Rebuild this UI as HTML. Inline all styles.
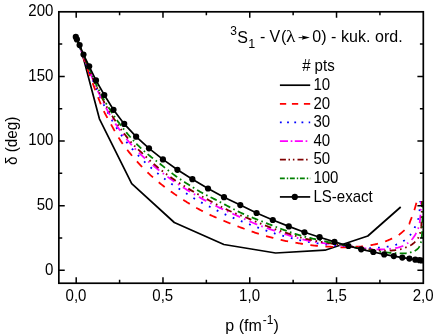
<!DOCTYPE html>
<html><head><meta charset="utf-8"><title>plot</title>
<style>html,body{margin:0;padding:0;background:#fff;}body{width:436px;height:336px;overflow:hidden;font-family:"Liberation Sans",sans-serif;}svg{display:block;will-change:transform;}</style></head>
<body>
<svg width="436" height="336" viewBox="0 0 436 336" font-family="'Liberation Sans', sans-serif" fill="#000">
<rect width="436" height="336" fill="#fff"/>
<defs><clipPath id="cp"><rect x="58.84" y="11.80" width="364.46" height="271.43"/></clipPath></defs>
<g clip-path="url(#cp)">
<g fill="none" stroke-width="1.80" stroke-linejoin="round">
<path d="M80.60,47.50 L99.40,118.80 L131.70,183.70 L174.30,222.50 L223.90,244.50 L275.60,253.00 L325.00,250.20 L367.80,236.00 L400.70,207.00" stroke="#000" stroke-width="1.7"/>
<path d="M77.40,40.46 L77.82,41.68 L78.23,42.87 L78.64,44.05 L79.04,45.23 L79.45,46.41 L79.85,47.59 L80.26,48.78 L80.68,50.00 L81.12,51.24 L81.56,52.51 L82.02,53.82 L82.50,55.17 L83.15,57.01 L83.84,58.93 L84.55,60.92 L85.29,62.97 L86.05,65.07 L86.82,67.19 L87.60,69.32 L88.38,71.46 L89.15,73.57 L89.92,75.65 L90.67,77.68 L91.40,79.65 L92.05,81.41 L92.71,83.16 L93.36,84.91 L94.01,86.65 L94.66,88.38 L95.31,90.09 L95.95,91.77 L96.58,93.42 L97.20,95.03 L97.81,96.60 L98.41,98.13 L99.00,99.60 L99.44,100.71 L99.87,101.78 L100.28,102.81 L100.68,103.83 L101.08,104.82 L101.48,105.79 L101.88,106.75 L102.28,107.70 L102.69,108.65 L103.11,109.59 L103.55,110.54 L104.00,111.49 L104.46,112.43 L104.93,113.35 L105.41,114.27 L105.90,115.17 L106.40,116.07 L106.90,116.97 L107.41,117.87 L107.92,118.77 L108.44,119.68 L108.96,120.59 L109.48,121.51 L110.00,122.45 L110.56,123.47 L111.13,124.51 L111.70,125.56 L112.27,126.62 L112.85,127.69 L113.44,128.76 L114.02,129.83 L114.61,130.89 L115.20,131.95 L115.80,132.99 L116.40,134.02 L117.00,135.02 L117.56,135.95 L118.12,136.86 L118.68,137.75 L119.24,138.64 L119.79,139.51 L120.36,140.39 L120.93,141.26 L121.52,142.13 L122.11,143.00 L122.72,143.88 L123.35,144.76 L124.00,145.66 L124.75,146.67 L125.52,147.69 L126.32,148.72 L127.13,149.76 L127.96,150.80 L128.80,151.84 L129.65,152.88 L130.52,153.91 L131.38,154.95 L132.25,155.97 L133.13,156.99 L134.00,158.00 L134.88,159.02 L135.78,160.03 L136.68,161.04 L137.58,162.05 L138.50,163.06 L139.42,164.05 L140.34,165.05 L141.27,166.03 L142.20,167.01 L143.13,167.97 L144.07,168.93 L145.00,169.87 L145.90,170.76 L146.79,171.64 L147.68,172.50 L148.57,173.36 L149.46,174.21 L150.36,175.05 L151.27,175.88 L152.18,176.71 L153.11,177.55 L154.06,178.38 L155.02,179.21 L156.00,180.05 L157.09,180.96 L158.20,181.87 L159.33,182.78 L160.48,183.69 L161.64,184.61 L162.82,185.51 L164.00,186.42 L165.19,187.32 L166.39,188.21 L167.59,189.10 L168.80,189.98 L170.00,190.85 L171.23,191.73 L172.48,192.61 L173.74,193.49 L175.02,194.37 L176.30,195.25 L177.58,196.11 L178.86,196.97 L180.12,197.81 L181.38,198.63 L182.61,199.44 L183.82,200.22 L185.00,200.97 L185.97,201.59 L186.91,202.18 L187.83,202.76 L188.74,203.32 L189.63,203.87 L190.52,204.41 L191.41,204.94 L192.31,205.47 L193.21,206.00 L194.12,206.53 L195.05,207.06 L196.00,207.60 L197.04,208.17 L198.10,208.76 L199.17,209.34 L200.25,209.92 L201.34,210.50 L202.44,211.08 L203.54,211.65 L204.64,212.21 L205.74,212.77 L206.84,213.31 L207.92,213.85 L209.00,214.37 L210.01,214.85 L211.02,215.32 L212.03,215.78 L213.04,216.23 L214.04,216.67 L215.05,217.11 L216.05,217.54 L217.04,217.96 L218.04,218.39 L219.03,218.80 L220.02,219.22 L221.00,219.64 L221.92,220.03 L222.83,220.41 L223.71,220.78 L224.59,221.15 L225.47,221.51 L226.35,221.88 L227.24,222.24 L228.14,222.60 L229.06,222.98 L230.01,223.35 L230.99,223.74 L232.00,224.14 L233.36,224.66 L234.79,225.22 L236.29,225.79 L237.83,226.38 L239.40,226.97 L240.99,227.57 L242.58,228.16 L244.15,228.74 L245.70,229.31 L247.20,229.86 L248.64,230.38 L250.00,230.86 L251.01,231.22 L251.98,231.56 L252.92,231.90 L253.84,232.22 L254.74,232.53 L255.63,232.83 L256.51,233.13 L257.39,233.42 L258.27,233.71 L259.16,234.00 L260.07,234.29 L261.00,234.57 L261.98,234.87 L262.96,235.16 L263.96,235.45 L264.95,235.73 L265.95,236.01 L266.96,236.29 L267.97,236.56 L268.97,236.83 L269.98,237.09 L270.99,237.36 L272.00,237.62 L273.00,237.88 L274.00,238.14 L275.00,238.40 L275.99,238.66 L276.99,238.92 L277.99,239.17 L278.99,239.42 L279.99,239.67 L280.99,239.91 L281.99,240.15 L282.99,240.38 L284.00,240.60 L285.00,240.82 L286.00,241.02 L287.00,241.22 L288.01,241.41 L289.01,241.60 L290.02,241.77 L291.03,241.95 L292.03,242.12 L293.03,242.29 L294.03,242.46 L295.03,242.62 L296.02,242.79 L297.00,242.96 L297.93,243.12 L298.85,243.28 L299.77,243.44 L300.68,243.60 L301.59,243.76 L302.50,243.92 L303.40,244.07 L304.31,244.23 L305.22,244.37 L306.14,244.52 L307.07,244.66 L308.00,244.79 L308.98,244.92 L309.98,245.06 L310.99,245.18 L312.00,245.31 L313.01,245.43 L314.03,245.54 L315.05,245.65 L316.06,245.76 L317.06,245.86 L318.06,245.95 L319.04,246.04 L320.00,246.13 L320.86,246.20 L321.72,246.26 L322.56,246.31 L323.40,246.36 L324.23,246.40 L325.06,246.45 L325.88,246.49 L326.70,246.53 L327.52,246.57 L328.34,246.61 L329.17,246.66 L330.00,246.71 L330.83,246.77 L331.64,246.84 L332.45,246.91 L333.26,246.99 L334.07,247.07 L334.88,247.14 L335.69,247.22 L336.52,247.29 L337.36,247.35 L338.22,247.40 L339.10,247.43 L340.00,247.45 L341.16,247.46 L342.40,247.44 L343.69,247.40 L345.02,247.35 L346.37,247.28 L347.72,247.21 L349.06,247.13 L350.36,247.05 L351.62,246.98 L352.80,246.91 L353.90,246.85 L354.90,246.80 L355.45,246.78 L355.97,246.76 L356.45,246.75 L356.92,246.74 L357.36,246.73 L357.79,246.72 L358.21,246.71 L358.63,246.69 L359.06,246.68 L359.49,246.66 L359.93,246.63 L360.40,246.60 L360.92,246.56 L361.46,246.52 L362.00,246.47 L362.54,246.42 L363.09,246.37 L363.64,246.31 L364.19,246.25 L364.74,246.19 L365.29,246.12 L365.83,246.05 L366.37,245.98 L366.90,245.90 L367.40,245.82 L367.90,245.74 L368.40,245.66 L368.90,245.57 L369.39,245.48 L369.88,245.39 L370.37,245.29 L370.86,245.19 L371.35,245.09 L371.83,245.00 L372.32,244.90 L372.80,244.80 L373.26,244.71 L373.72,244.61 L374.18,244.52 L374.63,244.43 L375.09,244.34 L375.54,244.25 L375.99,244.15 L376.45,244.05 L376.90,243.94 L377.36,243.84 L377.83,243.72 L378.30,243.60 L378.83,243.46 L379.36,243.31 L379.91,243.16 L380.46,243.00 L381.01,242.84 L381.56,242.67 L382.11,242.50 L382.66,242.33 L383.21,242.15 L383.75,241.97 L384.28,241.79 L384.80,241.60 L385.28,241.42 L385.75,241.24 L386.21,241.06 L386.67,240.87 L387.12,240.69 L387.58,240.49 L388.03,240.30 L388.48,240.10 L388.93,239.90 L389.38,239.70 L389.84,239.50 L390.30,239.30 L390.79,239.09 L391.28,238.88 L391.78,238.67 L392.27,238.47 L392.77,238.26 L393.27,238.04 L393.77,237.83 L394.27,237.60 L394.76,237.37 L395.24,237.12 L395.73,236.87 L396.20,236.60 L396.68,236.31 L397.15,236.02 L397.61,235.72 L398.07,235.41 L398.52,235.09 L398.98,234.76 L399.43,234.43 L399.88,234.08 L400.33,233.72 L400.78,233.36 L401.24,232.98 L401.70,232.60 L402.25,232.14 L402.82,231.66 L403.41,231.16 L404.01,230.65 L404.61,230.12 L405.21,229.59 L405.79,229.05 L406.35,228.50 L406.87,227.95 L407.36,227.40 L407.81,226.85 L408.20,226.30 L408.47,225.87 L408.70,225.44 L408.91,225.01 L409.09,224.58 L409.25,224.15 L409.40,223.71 L409.55,223.27 L409.68,222.83 L409.82,222.38 L409.97,221.93 L410.13,221.47 L410.30,221.00 L410.52,220.45 L410.74,219.89 L410.97,219.31 L411.20,218.72 L411.43,218.13 L411.67,217.54 L411.90,216.94 L412.13,216.34 L412.36,215.74 L412.58,215.15 L412.79,214.57 L413.00,214.00 L413.18,213.48 L413.36,212.97 L413.54,212.46 L413.71,211.96 L413.87,211.46 L414.04,210.96 L414.20,210.46 L414.36,209.96 L414.52,209.46 L414.68,208.94 L414.84,208.43 L415.00,207.90 L415.17,207.32 L415.34,206.74 L415.51,206.15 L415.68,205.55 L415.84,204.95 L416.01,204.34 L416.17,203.73 L416.34,203.12 L416.50,202.52 L416.67,201.91 L416.83,201.30 L417.00,200.70" stroke="#ff0000" stroke-dasharray="7.6 7.5"/>
<path d="M76.80,39.18 L77.31,40.56 L77.83,41.94 L78.34,43.32 L78.84,44.69 L79.35,46.07 L79.86,47.45 L80.37,48.83 L80.89,50.21 L81.41,51.59 L81.93,52.98 L82.46,54.37 L83.00,55.76 L83.56,57.20 L84.13,58.64 L84.70,60.09 L85.29,61.54 L85.87,63.00 L86.46,64.46 L87.05,65.91 L87.64,67.37 L88.23,68.82 L88.82,70.28 L89.41,71.73 L90.00,73.17 L90.58,74.61 L91.17,76.06 L91.75,77.52 L92.34,78.98 L92.92,80.44 L93.51,81.90 L94.09,83.34 L94.68,84.77 L95.26,86.18 L95.84,87.58 L96.42,88.94 L97.00,90.28 L97.50,91.42 L98.00,92.54 L98.49,93.65 L98.98,94.73 L99.47,95.80 L99.96,96.86 L100.45,97.91 L100.95,98.96 L101.45,100.01 L101.96,101.07 L102.47,102.13 L103.00,103.21 L103.55,104.32 L104.11,105.44 L104.67,106.56 L105.24,107.69 L105.81,108.81 L106.39,109.93 L106.98,111.06 L107.57,112.18 L108.17,113.30 L108.77,114.42 L109.38,115.54 L110.00,116.65 L110.63,117.77 L111.26,118.89 L111.89,120.01 L112.53,121.13 L113.17,122.24 L113.82,123.35 L114.48,124.46 L115.15,125.58 L115.84,126.69 L116.54,127.81 L117.26,128.94 L118.00,130.07 L118.83,131.32 L119.68,132.58 L120.55,133.85 L121.44,135.13 L122.35,136.41 L123.27,137.69 L124.21,138.96 L125.15,140.23 L126.10,141.49 L127.06,142.73 L128.03,143.95 L129.00,145.16 L129.95,146.31 L130.91,147.45 L131.88,148.57 L132.85,149.69 L133.83,150.79 L134.83,151.88 L135.83,152.97 L136.84,154.04 L137.86,155.12 L138.90,156.19 L139.94,157.25 L141.00,158.32 L142.11,159.42 L143.23,160.52 L144.37,161.62 L145.53,162.71 L146.69,163.79 L147.87,164.87 L149.05,165.95 L150.24,167.01 L151.43,168.06 L152.62,169.10 L153.81,170.13 L155.00,171.14 L156.15,172.11 L157.30,173.07 L158.46,174.02 L159.62,174.96 L160.78,175.90 L161.95,176.82 L163.11,177.73 L164.28,178.63 L165.46,179.52 L166.64,180.40 L167.82,181.27 L169.00,182.12 L170.15,182.94 L171.31,183.74 L172.47,184.53 L173.63,185.31 L174.80,186.08 L175.97,186.84 L177.14,187.59 L178.31,188.34 L179.48,189.08 L180.66,189.83 L181.83,190.58 L183.00,191.33 L184.16,192.07 L185.32,192.82 L186.49,193.58 L187.65,194.33 L188.81,195.08 L189.97,195.82 L191.14,196.56 L192.31,197.29 L193.47,198.01 L194.65,198.72 L195.82,199.42 L197.00,200.10 L198.16,200.76 L199.31,201.39 L200.48,202.02 L201.64,202.64 L202.81,203.25 L203.98,203.85 L205.15,204.44 L206.32,205.04 L207.49,205.63 L208.66,206.21 L209.83,206.80 L211.00,207.39 L212.16,207.98 L213.32,208.57 L214.48,209.16 L215.64,209.75 L216.79,210.33 L217.95,210.92 L219.11,211.49 L220.28,212.07 L221.45,212.64 L222.63,213.20 L223.81,213.76 L225.00,214.31 L226.23,214.86 L227.46,215.41 L228.71,215.96 L229.96,216.50 L231.22,217.04 L232.48,217.57 L233.74,218.10 L235.01,218.62 L236.26,219.13 L237.52,219.65 L238.76,220.15 L240.00,220.66 L241.18,221.13 L242.36,221.60 L243.53,222.06 L244.69,222.52 L245.86,222.98 L247.02,223.43 L248.18,223.87 L249.35,224.32 L250.51,224.76 L251.67,225.20 L252.83,225.64 L254.00,226.09 L255.16,226.53 L256.33,226.98 L257.49,227.42 L258.66,227.87 L259.82,228.31 L260.99,228.75 L262.16,229.19 L263.32,229.62 L264.49,230.05 L265.66,230.47 L266.83,230.89 L268.00,231.29 L269.16,231.68 L270.32,232.07 L271.49,232.45 L272.65,232.82 L273.82,233.19 L274.99,233.55 L276.15,233.91 L277.32,234.27 L278.49,234.61 L279.66,234.96 L280.83,235.30 L282.00,235.63 L283.16,235.96 L284.33,236.29 L285.50,236.61 L286.68,236.93 L287.85,237.24 L289.02,237.55 L290.19,237.85 L291.36,238.15 L292.53,238.44 L293.69,238.72 L294.85,239.00 L296.00,239.28 L297.10,239.53 L298.20,239.79 L299.30,240.04 L300.40,240.28 L301.50,240.52 L302.59,240.75 L303.68,240.98 L304.76,241.20 L305.83,241.42 L306.90,241.62 L307.95,241.83 L309.00,242.02 L309.95,242.19 L310.89,242.35 L311.82,242.51 L312.75,242.66 L313.67,242.81 L314.58,242.95 L315.50,243.09 L316.40,243.22 L317.31,243.35 L318.21,243.48 L319.10,243.60 L320.00,243.73 L320.85,243.84 L321.69,243.95 L322.53,244.06 L323.37,244.16 L324.20,244.26 L325.03,244.36 L325.86,244.46 L326.68,244.55 L327.51,244.64 L328.34,244.73 L329.17,244.82 L330.00,244.91 L330.83,245.00 L331.67,245.08 L332.50,245.17 L333.33,245.25 L334.17,245.33 L335.00,245.41 L335.83,245.49 L336.67,245.57 L337.50,245.64 L338.33,245.72 L339.17,245.79 L340.00,245.85 L340.84,245.92 L341.68,245.98 L342.53,246.03 L343.37,246.08 L344.22,246.13 L345.07,246.17 L345.91,246.22 L346.75,246.27 L347.58,246.32 L348.40,246.37 L349.21,246.43 L350.00,246.50 L350.70,246.57 L351.38,246.63 L352.06,246.71 L352.73,246.79 L353.39,246.86 L354.04,246.94 L354.70,247.02 L355.35,247.10 L356.01,247.18 L356.67,247.26 L357.33,247.33 L358.00,247.40 L358.70,247.47 L359.40,247.54 L360.11,247.61 L360.83,247.68 L361.54,247.75 L362.26,247.81 L362.97,247.87 L363.68,247.93 L364.37,247.98 L365.06,248.03 L365.74,248.07 L366.40,248.10 L366.96,248.12 L367.51,248.14 L368.05,248.15 L368.59,248.16 L369.12,248.16 L369.64,248.16 L370.16,248.16 L370.68,248.16 L371.20,248.15 L371.73,248.13 L372.26,248.12 L372.80,248.10 L373.37,248.08 L373.94,248.05 L374.51,248.02 L375.08,247.98 L375.66,247.94 L376.24,247.90 L376.81,247.86 L377.39,247.81 L377.97,247.76 L378.55,247.71 L379.12,247.65 L379.70,247.60 L380.28,247.55 L380.85,247.49 L381.42,247.43 L382.00,247.38 L382.57,247.32 L383.14,247.25 L383.71,247.19 L384.29,247.12 L384.86,247.05 L385.44,246.97 L386.02,246.89 L386.60,246.80 L387.20,246.71 L387.81,246.62 L388.42,246.53 L389.03,246.43 L389.65,246.33 L390.26,246.23 L390.88,246.12 L391.49,246.00 L392.10,245.87 L392.70,245.72 L393.30,245.57 L393.90,245.40 L394.50,245.22 L395.10,245.02 L395.69,244.81 L396.28,244.60 L396.87,244.37 L397.46,244.14 L398.05,243.89 L398.63,243.63 L399.20,243.36 L399.77,243.09 L400.34,242.80 L400.90,242.50 L401.47,242.18 L402.04,241.86 L402.60,241.52 L403.17,241.18 L403.72,240.82 L404.28,240.45 L404.82,240.07 L405.36,239.68 L405.89,239.28 L406.40,238.86 L406.91,238.44 L407.40,238.00 L407.89,237.54 L408.37,237.07 L408.85,236.57 L409.32,236.07 L409.78,235.55 L410.22,235.02 L410.66,234.49 L411.08,233.95 L411.49,233.41 L411.88,232.87 L412.25,232.33 L412.60,231.80 L412.89,231.33 L413.17,230.86 L413.43,230.39 L413.67,229.92 L413.90,229.45 L414.12,228.98 L414.34,228.50 L414.55,228.02 L414.76,227.53 L414.97,227.03 L415.18,226.52 L415.40,226.00 L415.66,225.39 L415.92,224.77 L416.19,224.14 L416.45,223.49 L416.71,222.84 L416.97,222.17 L417.23,221.51 L417.47,220.84 L417.70,220.17 L417.92,219.51 L418.12,218.85 L418.30,218.20 L418.45,217.59 L418.59,216.98 L418.72,216.37 L418.83,215.76 L418.94,215.15 L419.03,214.54 L419.12,213.93 L419.20,213.33 L419.28,212.74 L419.36,212.15 L419.43,211.57 L419.50,211.00 L419.56,210.51 L419.62,210.02 L419.67,209.54 L419.71,209.06 L419.75,208.59 L419.79,208.12 L419.83,207.65 L419.87,207.19 L419.90,206.74 L419.93,206.29 L419.97,205.84 L420.00,205.40 L420.03,205.01 L420.06,204.64 L420.08,204.26 L420.11,203.89 L420.13,203.53 L420.16,203.17 L420.18,202.81 L420.20,202.45 L420.23,202.09 L420.25,201.73 L420.28,201.36 L420.30,201.00" stroke="#0000ff" stroke-dasharray="1.8 7"/>
<path d="M76.60,38.73 L77.13,40.12 L77.66,41.50 L78.19,42.89 L78.72,44.27 L79.24,45.65 L79.77,47.04 L80.30,48.42 L80.83,49.81 L81.37,51.19 L81.91,52.58 L82.45,53.97 L83.00,55.36 L83.57,56.77 L84.14,58.19 L84.71,59.61 L85.29,61.03 L85.88,62.45 L86.47,63.87 L87.05,65.29 L87.64,66.71 L88.23,68.13 L88.82,69.55 L89.41,70.96 L90.00,72.37 L90.58,73.78 L91.17,75.20 L91.75,76.62 L92.33,78.05 L92.92,79.48 L93.51,80.90 L94.09,82.31 L94.67,83.71 L95.26,85.09 L95.84,86.45 L96.42,87.78 L97.00,89.08 L97.50,90.19 L98.00,91.27 L98.50,92.34 L99.00,93.39 L99.50,94.42 L100.00,95.44 L100.50,96.46 L100.99,97.47 L101.49,98.48 L101.99,99.48 L102.50,100.49 L103.00,101.51 L103.49,102.50 L103.97,103.48 L104.45,104.45 L104.92,105.42 L105.40,106.38 L105.88,107.35 L106.36,108.31 L106.86,109.28 L107.37,110.26 L107.89,111.24 L108.44,112.23 L109.00,113.24 L109.66,114.39 L110.35,115.55 L111.05,116.73 L111.77,117.91 L112.50,119.11 L113.26,120.31 L114.02,121.51 L114.80,122.71 L115.59,123.91 L116.38,125.10 L117.19,126.29 L118.00,127.47 L118.86,128.69 L119.73,129.93 L120.63,131.17 L121.54,132.42 L122.46,133.66 L123.39,134.89 L124.32,136.12 L125.26,137.33 L126.20,138.52 L127.14,139.70 L128.07,140.84 L129.00,141.96 L129.83,142.93 L130.65,143.89 L131.47,144.83 L132.29,145.75 L133.11,146.65 L133.94,147.55 L134.76,148.43 L135.59,149.31 L136.43,150.18 L137.28,151.04 L138.13,151.91 L139.00,152.78 L139.88,153.64 L140.76,154.50 L141.64,155.35 L142.54,156.18 L143.43,157.02 L144.34,157.85 L145.25,158.67 L146.18,159.50 L147.11,160.33 L148.06,161.16 L149.02,162.00 L150.00,162.84 L151.09,163.78 L152.21,164.72 L153.34,165.66 L154.49,166.61 L155.65,167.57 L156.82,168.52 L158.01,169.47 L159.20,170.41 L160.39,171.35 L161.60,172.29 L162.80,173.21 L164.00,174.13 L165.22,175.05 L166.45,175.96 L167.68,176.87 L168.93,177.77 L170.17,178.67 L171.43,179.56 L172.69,180.45 L173.95,181.33 L175.21,182.20 L176.47,183.06 L177.74,183.92 L179.00,184.76 L180.25,185.58 L181.51,186.40 L182.78,187.21 L184.06,188.02 L185.34,188.82 L186.62,189.61 L187.89,190.40 L189.15,191.16 L190.40,191.92 L191.62,192.66 L192.83,193.38 L194.00,194.08 L194.97,194.65 L195.92,195.21 L196.85,195.76 L197.76,196.30 L198.66,196.82 L199.56,197.34 L200.45,197.85 L201.34,198.35 L202.24,198.85 L203.15,199.36 L204.07,199.86 L205.00,200.37 L205.98,200.89 L206.97,201.42 L207.96,201.95 L208.97,202.47 L209.97,202.99 L210.98,203.51 L212.00,204.02 L213.01,204.53 L214.01,205.03 L215.02,205.53 L216.01,206.02 L217.00,206.50 L217.93,206.95 L218.84,207.39 L219.74,207.82 L220.64,208.24 L221.54,208.65 L222.44,209.07 L223.34,209.48 L224.25,209.89 L225.16,210.31 L226.09,210.73 L227.04,211.16 L228.00,211.60 L229.11,212.11 L230.24,212.63 L231.39,213.15 L232.56,213.68 L233.74,214.21 L234.92,214.75 L236.11,215.29 L237.31,215.83 L238.49,216.36 L239.68,216.89 L240.85,217.41 L242.00,217.93 L243.10,218.42 L244.19,218.91 L245.28,219.41 L246.36,219.90 L247.44,220.38 L248.52,220.87 L249.60,221.35 L250.67,221.82 L251.75,222.29 L252.83,222.76 L253.91,223.21 L255.00,223.66 L256.08,224.09 L257.15,224.51 L258.23,224.93 L259.30,225.34 L260.38,225.75 L261.45,226.14 L262.54,226.54 L263.62,226.93 L264.71,227.32 L265.80,227.71 L266.90,228.10 L268.00,228.49 L269.14,228.89 L270.29,229.29 L271.45,229.68 L272.60,230.07 L273.76,230.46 L274.93,230.84 L276.10,231.23 L277.27,231.61 L278.45,231.99 L279.63,232.37 L280.81,232.75 L282.00,233.13 L283.23,233.53 L284.48,233.93 L285.73,234.33 L286.99,234.73 L288.26,235.13 L289.53,235.52 L290.79,235.92 L292.05,236.30 L293.31,236.68 L294.55,237.05 L295.78,237.41 L297.00,237.76 L298.12,238.07 L299.23,238.38 L300.35,238.68 L301.45,238.98 L302.56,239.27 L303.65,239.56 L304.74,239.84 L305.82,240.10 L306.88,240.36 L307.94,240.60 L308.98,240.83 L310.00,241.05 L310.88,241.22 L311.74,241.38 L312.58,241.53 L313.42,241.67 L314.25,241.80 L315.07,241.92 L315.89,242.04 L316.71,242.16 L317.53,242.27 L318.35,242.39 L319.17,242.51 L320.00,242.63 L320.83,242.75 L321.67,242.87 L322.50,242.99 L323.33,243.11 L324.17,243.22 L325.00,243.34 L325.83,243.45 L326.67,243.57 L327.50,243.68 L328.33,243.79 L329.17,243.90 L330.00,244.01 L330.83,244.12 L331.67,244.23 L332.50,244.33 L333.33,244.44 L334.17,244.55 L335.00,244.65 L335.83,244.76 L336.67,244.86 L337.50,244.96 L338.33,245.06 L339.17,245.16 L340.00,245.25 L340.83,245.35 L341.67,245.44 L342.50,245.52 L343.33,245.60 L344.17,245.68 L345.00,245.76 L345.83,245.84 L346.67,245.93 L347.50,246.01 L348.33,246.10 L349.17,246.20 L350.00,246.30 L350.83,246.41 L351.67,246.53 L352.50,246.65 L353.33,246.78 L354.17,246.91 L355.00,247.05 L355.83,247.18 L356.67,247.31 L357.50,247.44 L358.33,247.57 L359.17,247.69 L360.00,247.80 L360.83,247.91 L361.66,248.01 L362.49,248.11 L363.31,248.21 L364.14,248.31 L364.97,248.41 L365.80,248.50 L366.63,248.59 L367.47,248.67 L368.31,248.75 L369.15,248.83 L370.00,248.90 L370.89,248.97 L371.79,249.05 L372.69,249.12 L373.59,249.20 L374.50,249.26 L375.41,249.33 L376.33,249.38 L377.24,249.43 L378.16,249.47 L379.07,249.49 L379.99,249.50 L380.90,249.50 L381.82,249.48 L382.75,249.45 L383.69,249.42 L384.63,249.37 L385.56,249.31 L386.50,249.24 L387.43,249.16 L388.36,249.06 L389.28,248.96 L390.20,248.85 L391.10,248.73 L392.00,248.60 L392.84,248.47 L393.68,248.34 L394.51,248.21 L395.34,248.07 L396.17,247.92 L396.99,247.76 L397.80,247.59 L398.60,247.39 L399.39,247.18 L400.17,246.95 L400.94,246.69 L401.70,246.40 L402.43,246.09 L403.16,245.76 L403.89,245.40 L404.61,245.03 L405.31,244.63 L406.01,244.22 L406.70,243.79 L407.36,243.35 L408.01,242.90 L408.63,242.44 L409.23,241.97 L409.80,241.50 L410.28,241.07 L410.75,240.63 L411.19,240.19 L411.62,239.73 L412.04,239.26 L412.44,238.79 L412.83,238.31 L413.20,237.82 L413.56,237.32 L413.92,236.82 L414.26,236.31 L414.60,235.80 L414.93,235.28 L415.24,234.73 L415.55,234.16 L415.84,233.58 L416.12,233.00 L416.39,232.42 L416.66,231.83 L416.91,231.26 L417.15,230.71 L417.37,230.18 L417.59,229.67 L417.80,229.20 L417.94,228.90 L418.06,228.63 L418.19,228.37 L418.30,228.13 L418.41,227.89 L418.52,227.66 L418.62,227.42 L418.72,227.18 L418.82,226.92 L418.92,226.64 L419.01,226.33 L419.10,226.00 L419.25,225.34 L419.40,224.60 L419.53,223.79 L419.65,222.93 L419.77,222.02 L419.87,221.08 L419.97,220.13 L420.07,219.18 L420.16,218.23 L420.24,217.31 L420.32,216.43 L420.40,215.60 L420.46,214.92 L420.52,214.26 L420.57,213.60 L420.62,212.96 L420.66,212.32 L420.70,211.69 L420.74,211.07 L420.78,210.45 L420.81,209.83 L420.84,209.22 L420.87,208.61 L420.90,208.00 L420.93,207.44 L420.95,206.89 L420.97,206.34 L420.99,205.80 L421.00,205.26 L421.02,204.72 L421.03,204.18 L421.04,203.65 L421.06,203.11 L421.07,202.58 L421.08,202.04 L421.10,201.50" stroke="#ff00ff" stroke-dasharray="8.5 4.3 1.6 4.3"/>
<path d="M76.50,38.51 L77.04,39.88 L77.58,41.25 L78.11,42.62 L78.65,43.99 L79.19,45.36 L79.72,46.74 L80.26,48.11 L80.80,49.48 L81.34,50.85 L81.89,52.22 L82.44,53.59 L83.00,54.96 L83.57,56.34 L84.14,57.72 L84.72,59.10 L85.30,60.47 L85.88,61.85 L86.47,63.23 L87.06,64.61 L87.65,65.98 L88.24,67.36 L88.82,68.73 L89.41,70.10 L90.00,71.47 L90.58,72.84 L91.16,74.20 L91.74,75.57 L92.31,76.94 L92.89,78.31 L93.47,79.67 L94.05,81.03 L94.63,82.38 L95.22,83.73 L95.81,85.06 L96.40,86.38 L97.00,87.68 L97.57,88.90 L98.15,90.11 L98.73,91.31 L99.31,92.51 L99.90,93.71 L100.49,94.89 L101.08,96.06 L101.67,97.22 L102.26,98.36 L102.84,99.49 L103.42,100.60 L104.00,101.69 L104.50,102.65 L105.00,103.58 L105.49,104.50 L105.98,105.40 L106.47,106.29 L106.96,107.18 L107.45,108.06 L107.95,108.93 L108.45,109.81 L108.95,110.68 L109.47,111.56 L110.00,112.45 L110.55,113.36 L111.12,114.28 L111.70,115.21 L112.28,116.13 L112.88,117.05 L113.47,117.97 L114.07,118.89 L114.66,119.80 L115.26,120.70 L115.85,121.58 L116.43,122.46 L117.00,123.32 L117.50,124.08 L118.00,124.82 L118.48,125.55 L118.95,126.27 L119.42,126.97 L119.90,127.68 L120.38,128.39 L120.87,129.10 L121.37,129.81 L121.89,130.54 L122.43,131.29 L123.00,132.05 L123.73,133.02 L124.49,134.02 L125.28,135.04 L126.09,136.08 L126.92,137.13 L127.77,138.19 L128.64,139.25 L129.51,140.30 L130.38,141.33 L131.26,142.35 L132.13,143.33 L133.00,144.29 L133.82,145.16 L134.64,146.01 L135.48,146.85 L136.33,147.67 L137.18,148.48 L138.03,149.29 L138.88,150.08 L139.72,150.86 L140.56,151.63 L141.39,152.40 L142.20,153.16 L143.00,153.91 L143.69,154.58 L144.38,155.23 L145.04,155.87 L145.71,156.51 L146.36,157.14 L147.01,157.76 L147.66,158.38 L148.32,159.00 L148.97,159.62 L149.64,160.24 L150.31,160.85 L151.00,161.48 L151.72,162.12 L152.43,162.76 L153.14,163.39 L153.85,164.02 L154.57,164.65 L155.29,165.28 L156.03,165.91 L156.78,166.55 L157.55,167.19 L158.34,167.84 L159.16,168.51 L160.00,169.18 L161.10,170.05 L162.26,170.94 L163.45,171.85 L164.68,172.78 L165.94,173.72 L167.22,174.66 L168.51,175.61 L169.82,176.55 L171.13,177.48 L172.43,178.39 L173.72,179.29 L175.00,180.17 L176.24,181.00 L177.48,181.83 L178.72,182.64 L179.97,183.45 L181.21,184.25 L182.46,185.04 L183.72,185.82 L184.97,186.59 L186.23,187.36 L187.48,188.12 L188.74,188.88 L190.00,189.64 L191.24,190.37 L192.49,191.10 L193.75,191.82 L195.00,192.53 L196.26,193.24 L197.51,193.94 L198.77,194.64 L200.03,195.33 L201.28,196.02 L202.52,196.70 L203.77,197.39 L205.00,198.07 L206.18,198.72 L207.36,199.38 L208.54,200.03 L209.71,200.68 L210.88,201.33 L212.05,201.97 L213.21,202.61 L214.37,203.24 L215.53,203.86 L216.69,204.48 L217.85,205.08 L219.00,205.68 L220.09,206.24 L221.18,206.79 L222.26,207.33 L223.33,207.87 L224.40,208.39 L225.48,208.92 L226.55,209.43 L227.63,209.95 L228.71,210.45 L229.80,210.95 L230.89,211.45 L232.00,211.94 L233.14,212.43 L234.30,212.91 L235.46,213.38 L236.63,213.85 L237.81,214.31 L238.99,214.76 L240.17,215.22 L241.35,215.67 L242.52,216.12 L243.69,216.57 L244.85,217.03 L246.00,217.50 L247.10,217.95 L248.20,218.41 L249.29,218.87 L250.37,219.33 L251.45,219.80 L252.53,220.26 L253.61,220.72 L254.68,221.18 L255.76,221.64 L256.84,222.09 L257.92,222.54 L259.00,222.99 L260.08,223.42 L261.16,223.86 L262.23,224.29 L263.31,224.72 L264.38,225.15 L265.46,225.58 L266.54,226.00 L267.62,226.42 L268.71,226.84 L269.80,227.25 L270.90,227.66 L272.00,228.07 L273.14,228.48 L274.30,228.89 L275.45,229.29 L276.62,229.69 L277.79,230.09 L278.96,230.48 L280.13,230.88 L281.31,231.27 L282.48,231.65 L283.66,232.04 L284.83,232.42 L286.00,232.81 L287.17,233.20 L288.36,233.59 L289.55,233.98 L290.75,234.38 L291.94,234.77 L293.14,235.16 L294.32,235.55 L295.50,235.92 L296.66,236.28 L297.80,236.63 L298.91,236.96 L300.00,237.28 L300.89,237.53 L301.76,237.76 L302.61,237.99 L303.45,238.21 L304.27,238.42 L305.09,238.62 L305.91,238.82 L306.72,239.01 L307.53,239.20 L308.35,239.38 L309.17,239.57 L310.00,239.75 L310.83,239.92 L311.66,240.10 L312.50,240.26 L313.33,240.42 L314.16,240.58 L315.00,240.74 L315.83,240.89 L316.66,241.04 L317.50,241.19 L318.33,241.33 L319.17,241.48 L320.00,241.63 L320.83,241.78 L321.67,241.92 L322.50,242.07 L323.33,242.21 L324.16,242.35 L325.00,242.49 L325.83,242.63 L326.67,242.77 L327.50,242.90 L328.33,243.04 L329.17,243.17 L330.00,243.31 L330.83,243.44 L331.67,243.58 L332.50,243.71 L333.33,243.84 L334.17,243.97 L335.00,244.10 L335.83,244.22 L336.67,244.35 L337.50,244.48 L338.33,244.60 L339.17,244.73 L340.00,244.85 L340.83,244.98 L341.67,245.10 L342.50,245.21 L343.33,245.33 L344.17,245.44 L345.00,245.56 L345.84,245.67 L346.67,245.79 L347.50,245.91 L348.34,246.03 L349.17,246.16 L350.00,246.30 L350.83,246.44 L351.64,246.60 L352.45,246.75 L353.26,246.92 L354.06,247.08 L354.87,247.25 L355.69,247.42 L356.51,247.58 L357.35,247.75 L358.21,247.90 L359.09,248.06 L360.00,248.20 L361.15,248.37 L362.36,248.53 L363.60,248.69 L364.88,248.85 L366.18,249.00 L367.49,249.15 L368.81,249.29 L370.11,249.43 L371.39,249.56 L372.64,249.68 L373.85,249.79 L375.00,249.90 L375.91,249.98 L376.80,250.06 L377.68,250.14 L378.55,250.21 L379.40,250.28 L380.24,250.34 L381.06,250.40 L381.87,250.46 L382.67,250.50 L383.46,250.54 L384.23,250.57 L385.00,250.60 L385.62,250.62 L386.23,250.63 L386.81,250.65 L387.38,250.66 L387.95,250.66 L388.51,250.66 L389.07,250.65 L389.63,250.64 L390.20,250.62 L390.78,250.59 L391.38,250.55 L392.00,250.50 L392.76,250.43 L393.53,250.35 L394.33,250.27 L395.13,250.17 L395.95,250.06 L396.77,249.95 L397.60,249.81 L398.43,249.66 L399.26,249.50 L400.08,249.32 L400.90,249.12 L401.70,248.90 L402.53,248.65 L403.38,248.38 L404.24,248.08 L405.11,247.77 L405.97,247.44 L406.82,247.10 L407.66,246.74 L408.47,246.37 L409.26,245.99 L410.02,245.60 L410.73,245.20 L411.40,244.80 L411.89,244.48 L412.36,244.16 L412.80,243.84 L413.23,243.50 L413.65,243.16 L414.04,242.82 L414.43,242.47 L414.80,242.11 L415.16,241.74 L415.52,241.37 L415.86,240.99 L416.20,240.60 L416.52,240.22 L416.83,239.83 L417.14,239.44 L417.43,239.04 L417.72,238.64 L417.99,238.22 L418.25,237.80 L418.51,237.38 L418.75,236.95 L418.98,236.50 L419.20,236.06 L419.40,235.60 L419.60,235.11 L419.78,234.62 L419.95,234.13 L420.10,233.62 L420.25,233.11 L420.38,232.59 L420.50,232.06 L420.61,231.52 L420.71,230.96 L420.81,230.39 L420.91,229.80 L421.00,229.20 L421.11,228.38 L421.20,227.53 L421.28,226.65 L421.34,225.74 L421.38,224.81 L421.42,223.85 L421.46,222.89 L421.49,221.92 L421.51,220.93 L421.54,219.95 L421.57,218.97 L421.60,218.00 L421.64,216.93 L421.67,215.80 L421.70,214.64 L421.73,213.46 L421.76,212.28 L421.78,211.10 L421.80,209.94 L421.82,208.82 L421.84,207.75 L421.86,206.75 L421.88,205.83 L421.90,205.00 L421.91,204.59 L421.92,204.20 L421.93,203.84 L421.94,203.50 L421.95,203.17 L421.95,202.86 L421.96,202.55 L421.97,202.25 L421.98,201.95 L421.98,201.64 L421.99,201.33 L422.00,201.00" stroke="#800000" stroke-dasharray="6.5 3.9 1.6 3.8 1.6 3.9"/>
<path d="M76.30,38.05 L76.86,39.42 L77.41,40.79 L77.97,42.16 L78.52,43.53 L79.07,44.90 L79.63,46.28 L80.18,47.65 L80.74,49.01 L81.30,50.38 L81.86,51.74 L82.43,53.10 L83.00,54.46 L83.57,55.80 L84.15,57.13 L84.72,58.46 L85.31,59.79 L85.89,61.12 L86.48,62.44 L87.06,63.76 L87.65,65.09 L88.24,66.41 L88.83,67.73 L89.41,69.05 L90.00,70.37 L90.58,71.70 L91.16,73.03 L91.74,74.36 L92.32,75.70 L92.89,77.03 L93.47,78.37 L94.05,79.69 L94.63,81.01 L95.22,82.33 L95.81,83.62 L96.40,84.91 L97.00,86.18 L97.57,87.36 L98.13,88.53 L98.70,89.68 L99.27,90.83 L99.84,91.97 L100.41,93.10 L100.99,94.23 L101.58,95.35 L102.17,96.46 L102.77,97.57 L103.38,98.69 L104.00,99.79 L104.63,100.90 L105.27,102.00 L105.92,103.10 L106.58,104.20 L107.24,105.29 L107.92,106.38 L108.59,107.46 L109.27,108.54 L109.95,109.60 L110.64,110.67 L111.32,111.72 L112.00,112.76 L112.65,113.76 L113.30,114.74 L113.95,115.71 L114.59,116.67 L115.24,117.63 L115.90,118.58 L116.56,119.53 L117.22,120.48 L117.90,121.43 L118.59,122.38 L119.29,123.34 L120.00,124.30 L120.78,125.33 L121.57,126.38 L122.38,127.43 L123.20,128.49 L124.03,129.54 L124.87,130.60 L125.72,131.65 L126.57,132.69 L127.43,133.73 L128.29,134.75 L129.14,135.75 L130.00,136.74 L130.82,137.67 L131.64,138.59 L132.46,139.51 L133.28,140.41 L134.11,141.31 L134.94,142.19 L135.78,143.07 L136.61,143.94 L137.46,144.79 L138.30,145.64 L139.15,146.48 L140.00,147.30 L140.82,148.08 L141.64,148.84 L142.46,149.60 L143.29,150.34 L144.12,151.08 L144.96,151.81 L145.79,152.52 L146.63,153.24 L147.47,153.94 L148.31,154.65 L149.16,155.35 L150.00,156.04 L150.82,156.71 L151.63,157.36 L152.44,157.99 L153.24,158.62 L154.05,159.24 L154.86,159.86 L155.68,160.48 L156.51,161.11 L157.35,161.75 L158.22,162.40 L159.10,163.08 L160.00,163.78 L161.14,164.68 L162.32,165.62 L163.53,166.59 L164.76,167.58 L166.02,168.59 L167.29,169.61 L168.57,170.64 L169.86,171.66 L171.15,172.67 L172.44,173.66 L173.72,174.63 L175.00,175.57 L176.24,176.45 L177.49,177.33 L178.76,178.20 L180.02,179.07 L181.30,179.92 L182.57,180.76 L183.83,181.59 L185.09,182.40 L186.35,183.21 L187.58,184.00 L188.80,184.77 L190.00,185.54 L191.04,186.19 L192.06,186.84 L193.06,187.47 L194.06,188.09 L195.04,188.71 L196.03,189.31 L197.01,189.90 L197.99,190.49 L198.97,191.08 L199.97,191.66 L200.98,192.23 L202.00,192.80 L203.05,193.38 L204.11,193.95 L205.17,194.50 L206.24,195.04 L207.32,195.58 L208.40,196.12 L209.48,196.65 L210.57,197.19 L211.67,197.73 L212.77,198.28 L213.88,198.84 L215.00,199.41 L216.21,200.04 L217.44,200.68 L218.68,201.33 L219.92,201.99 L221.17,202.66 L222.43,203.32 L223.69,203.99 L224.96,204.66 L226.22,205.32 L227.48,205.98 L228.74,206.63 L230.00,207.28 L231.26,207.92 L232.53,208.57 L233.81,209.23 L235.10,209.88 L236.39,210.54 L237.67,211.19 L238.94,211.83 L240.20,212.45 L241.44,213.05 L242.66,213.63 L243.85,214.18 L245.00,214.70 L245.89,215.09 L246.76,215.46 L247.60,215.81 L248.42,216.13 L249.23,216.45 L250.03,216.76 L250.83,217.06 L251.64,217.37 L252.45,217.67 L253.28,217.99 L254.13,218.32 L255.00,218.66 L256.02,219.06 L257.06,219.47 L258.12,219.89 L259.19,220.31 L260.27,220.74 L261.36,221.17 L262.46,221.61 L263.57,222.05 L264.68,222.48 L265.78,222.92 L266.89,223.36 L268.00,223.79 L269.15,224.24 L270.31,224.70 L271.47,225.16 L272.64,225.62 L273.82,226.08 L274.99,226.55 L276.17,227.01 L277.35,227.47 L278.52,227.92 L279.69,228.36 L280.85,228.80 L282.00,229.23 L283.10,229.64 L284.21,230.04 L285.32,230.45 L286.42,230.85 L287.53,231.24 L288.63,231.63 L289.72,232.01 L290.80,232.39 L291.87,232.76 L292.93,233.11 L293.97,233.46 L295.00,233.79 L295.88,234.08 L296.74,234.35 L297.58,234.62 L298.42,234.88 L299.25,235.13 L300.07,235.38 L300.89,235.62 L301.71,235.86 L302.52,236.09 L303.34,236.32 L304.17,236.55 L305.00,236.77 L305.83,236.99 L306.66,237.20 L307.49,237.41 L308.33,237.61 L309.16,237.81 L309.99,238.00 L310.83,238.20 L311.66,238.39 L312.50,238.58 L313.33,238.76 L314.17,238.95 L315.00,239.14 L315.83,239.33 L316.67,239.52 L317.50,239.70 L318.33,239.89 L319.16,240.07 L320.00,240.26 L320.83,240.44 L321.66,240.62 L322.50,240.80 L323.33,240.97 L324.17,241.15 L325.00,241.33 L325.84,241.50 L326.69,241.68 L327.54,241.85 L328.40,242.03 L329.26,242.20 L330.11,242.37 L330.96,242.54 L331.80,242.71 L332.62,242.88 L333.44,243.04 L334.23,243.20 L335.00,243.35 L335.63,243.48 L336.23,243.60 L336.83,243.72 L337.41,243.83 L337.98,243.94 L338.55,244.06 L339.11,244.17 L339.68,244.28 L340.25,244.39 L340.82,244.51 L341.40,244.62 L342.00,244.74 L342.65,244.88 L343.29,245.01 L343.94,245.14 L344.59,245.27 L345.25,245.41 L345.91,245.54 L346.58,245.68 L347.25,245.82 L347.93,245.96 L348.61,246.11 L349.30,246.25 L350.00,246.40 L350.79,246.57 L351.58,246.75 L352.37,246.93 L353.17,247.11 L353.98,247.30 L354.80,247.49 L355.63,247.67 L356.47,247.86 L357.33,248.05 L358.20,248.24 L359.09,248.42 L360.00,248.60 L361.14,248.82 L362.33,249.04 L363.54,249.26 L364.79,249.48 L366.06,249.70 L367.34,249.92 L368.63,250.13 L369.92,250.34 L371.21,250.54 L372.49,250.73 L373.76,250.92 L375.00,251.10 L376.18,251.26 L377.36,251.42 L378.54,251.58 L379.73,251.73 L380.90,251.87 L382.08,252.01 L383.24,252.14 L384.40,252.27 L385.54,252.39 L386.68,252.50 L387.80,252.60 L388.90,252.70 L389.87,252.78 L390.84,252.86 L391.80,252.93 L392.76,253.00 L393.70,253.06 L394.64,253.11 L395.56,253.16 L396.48,253.21 L397.38,253.24 L398.27,253.27 L399.14,253.29 L400.00,253.30 L400.72,253.31 L401.42,253.32 L402.11,253.32 L402.80,253.33 L403.47,253.33 L404.14,253.32 L404.80,253.31 L405.45,253.28 L406.10,253.24 L406.74,253.18 L407.37,253.10 L408.00,253.00 L408.59,252.89 L409.17,252.77 L409.76,252.64 L410.34,252.49 L410.91,252.34 L411.48,252.17 L412.04,251.99 L412.59,251.79 L413.12,251.59 L413.63,251.37 L414.13,251.14 L414.60,250.90 L414.99,250.68 L415.38,250.46 L415.75,250.24 L416.11,250.00 L416.46,249.75 L416.81,249.50 L417.13,249.23 L417.45,248.95 L417.76,248.66 L418.05,248.36 L418.33,248.04 L418.60,247.70 L418.88,247.31 L419.14,246.90 L419.38,246.46 L419.61,246.01 L419.82,245.55 L420.02,245.07 L420.21,244.58 L420.38,244.08 L420.55,243.56 L420.71,243.05 L420.86,242.53 L421.00,242.00 L421.15,241.39 L421.28,240.76 L421.40,240.11 L421.50,239.45 L421.58,238.78 L421.66,238.10 L421.73,237.42 L421.79,236.73 L421.84,236.04 L421.90,235.35 L421.95,234.67 L422.00,234.00 L422.05,233.34 L422.09,232.69 L422.13,232.05 L422.15,231.42 L422.18,230.78 L422.20,230.14 L422.21,229.49 L422.23,228.83 L422.25,228.16 L422.26,227.46 L422.28,226.74 L422.30,226.00 L422.33,224.96 L422.36,223.86 L422.39,222.72 L422.42,221.53 L422.44,220.32 L422.47,219.10 L422.49,217.86 L422.52,216.64 L422.54,215.43 L422.56,214.24 L422.58,213.10 L422.60,212.00 L422.61,211.11 L422.62,210.24 L422.63,209.38 L422.64,208.54 L422.65,207.71 L422.66,206.90 L422.67,206.08 L422.67,205.27 L422.68,204.46 L422.68,203.65 L422.69,202.83 L422.70,202.00" stroke="#008000" stroke-dasharray="6.9 3.4 1.6 3.4"/>
<path d="M75.80,36.90 L76.90,39.40 L79.60,45.10 L83.50,54.50 L89.20,66.30 L96.00,80.40 L104.30,95.00 L113.50,109.80 L124.20,123.90 L136.10,136.70 L149.00,148.30 L162.90,159.40 L177.40,169.80 L192.40,179.20 L208.00,188.50 L224.00,197.20 L240.30,205.10 L256.60,213.00 L272.80,220.00 L288.80,226.40 L304.50,232.30 L319.60,237.20 L334.50,241.90 L348.50,246.00 L361.20,249.30 L373.30,252.00 L384.20,254.40 L393.80,256.10 L402.30,257.60 L409.40,258.60 L415.30,259.70 L419.50,260.20 L421.90,260.50" stroke="#000" stroke-width="1.7"/>
</g>
<g fill="#000">
<circle cx="75.80" cy="36.90" r="3.1"/>
<circle cx="76.90" cy="39.40" r="3.1"/>
<circle cx="79.60" cy="45.10" r="3.1"/>
<circle cx="83.50" cy="54.50" r="3.1"/>
<circle cx="89.20" cy="66.30" r="3.1"/>
<circle cx="96.00" cy="80.40" r="3.1"/>
<circle cx="104.30" cy="95.00" r="3.1"/>
<circle cx="113.50" cy="109.80" r="3.1"/>
<circle cx="124.20" cy="123.90" r="3.1"/>
<circle cx="136.10" cy="136.70" r="3.1"/>
<circle cx="149.00" cy="148.30" r="3.1"/>
<circle cx="162.90" cy="159.40" r="3.1"/>
<circle cx="177.40" cy="169.80" r="3.1"/>
<circle cx="192.40" cy="179.20" r="3.1"/>
<circle cx="208.00" cy="188.50" r="3.1"/>
<circle cx="224.00" cy="197.20" r="3.1"/>
<circle cx="240.30" cy="205.10" r="3.1"/>
<circle cx="256.60" cy="213.00" r="3.1"/>
<circle cx="272.80" cy="220.00" r="3.1"/>
<circle cx="288.80" cy="226.40" r="3.1"/>
<circle cx="304.50" cy="232.30" r="3.1"/>
<circle cx="319.60" cy="237.20" r="3.1"/>
<circle cx="334.50" cy="241.90" r="3.1"/>
<circle cx="348.50" cy="246.00" r="3.1"/>
<circle cx="361.20" cy="249.30" r="3.1"/>
<circle cx="373.30" cy="252.00" r="3.1"/>
<circle cx="384.20" cy="254.40" r="3.1"/>
<circle cx="393.80" cy="256.10" r="3.1"/>
<circle cx="402.30" cy="257.60" r="3.1"/>
<circle cx="409.40" cy="258.60" r="3.1"/>
<circle cx="415.30" cy="259.70" r="3.1"/>
<circle cx="419.50" cy="260.20" r="3.1"/>
<circle cx="421.90" cy="260.50" r="3.1"/>
</g>
</g>
<rect x="58.84" y="11.80" width="364.46" height="271.43" fill="none" stroke="#000" stroke-width="1.70"/>
<path d="M76.20,283.23 v-5.90 M76.20,11.80 v5.90 M119.59,283.23 v-3.40 M119.59,11.80 v3.40 M162.98,283.23 v-5.90 M162.98,11.80 v5.90 M206.36,283.23 v-3.40 M206.36,11.80 v3.40 M249.75,283.23 v-5.90 M249.75,11.80 v5.90 M293.14,283.23 v-3.40 M293.14,11.80 v3.40 M336.53,283.23 v-5.90 M336.53,11.80 v5.90 M379.91,283.23 v-3.40 M379.91,11.80 v3.40 M58.84,270.30 h5.90 M423.30,270.30 h-5.90 M58.84,237.99 h3.40 M423.30,237.99 h-3.40 M58.84,205.68 h5.90 M423.30,205.68 h-5.90 M58.84,173.36 h3.40 M423.30,173.36 h-3.40 M58.84,141.05 h5.90 M423.30,141.05 h-5.90 M58.84,108.74 h3.40 M423.30,108.74 h-3.40 M58.84,76.43 h5.90 M423.30,76.43 h-5.90 M58.84,44.11 h3.40 M423.30,44.11 h-3.40" stroke="#000" stroke-width="1.50" fill="none"/>
<g font-size="16px">
<text transform="translate(53.4,274.70) scale(0.940,1)" text-anchor="end">0</text>
<text transform="translate(53.4,210.08) scale(0.940,1)" text-anchor="end">50</text>
<text transform="translate(53.4,145.45) scale(0.940,1)" text-anchor="end">100</text>
<text transform="translate(53.4,80.83) scale(0.940,1)" text-anchor="end">150</text>
<text transform="translate(53.4,16.20) scale(0.940,1)" text-anchor="end">200</text>
<text transform="translate(76.00,301.1) scale(0.940,1)" text-anchor="middle">0,0</text>
<text transform="translate(162.78,301.1) scale(0.940,1)" text-anchor="middle">0,5</text>
<text transform="translate(249.55,301.1) scale(0.940,1)" text-anchor="middle">1,0</text>
<text transform="translate(336.33,301.1) scale(0.940,1)" text-anchor="middle">1,5</text>
<text transform="translate(423.10,301.1) scale(0.940,1)" text-anchor="middle">2,0</text>
</g>
<text font-size="16px" x="225.3" y="330.9">p (fm<tspan font-size="12px" dx="0.9" dy="-7.1">-1</tspan><tspan dx="0.1" dy="7.1">)</tspan></text>
<text font-size="16px" transform="translate(17.0,165.0) rotate(-90) scale(0.955,1)">δ (deg)</text>
<g font-size="16px">
<text x="230.3" y="34.7" font-size="12px">3</text>
<text x="237.2" y="42.6">S</text>
<text x="248.3" y="48.4" font-size="12.5px">1</text>
<text x="260.0" y="42.4">-</text>
<text x="269.6" y="42.4">V</text>
<text x="281.0" y="42.4">(</text>
<text transform="translate(286.0,42.3) scale(1.22,1.06)" font-family="'Liberation Serif', serif" font-size="16px">λ</text>
<path d="M298.6,37.6 H304" stroke="#000" stroke-width="0.85" fill="none"/>
<path d="M309.9,37.6 L301.8,35.5 L302.9,37.6 L301.8,39.7 Z" fill="#000"/>
<text x="312.2" y="42.4" letter-spacing="0.06">0) - kuk. ord.</text>
</g>
<g font-size="16px">
<text transform="translate(302.3,71.3) scale(0.940,1)">#</text><text transform="translate(314.6,71.3) scale(0.940,1)">pts</text>
<path d="M279.90,85.20 H310.20" stroke="#000" stroke-width="1.70" fill="none"/>
<text transform="translate(313.4,89.90) scale(0.940,1)">10</text>
<path d="M279.90,103.82 H310.20" stroke="#ff0000" stroke-width="1.70" fill="none" stroke-dasharray="6.3 5.7"/>
<text transform="translate(313.4,108.52) scale(0.940,1)">20</text>
<path d="M279.90,122.44 H310.20" stroke="#0000ff" stroke-width="1.70" fill="none" stroke-dasharray="1.8 5.4"/>
<text transform="translate(313.4,127.14) scale(0.940,1)">30</text>
<path d="M279.90,141.06 H308.00" stroke="#ff00ff" stroke-width="1.70" fill="none" stroke-dasharray="8.1 2.7 1.7 2.4"/>
<text transform="translate(313.4,145.76) scale(0.940,1)">40</text>
<path d="M279.90,159.68 H310.20" stroke="#800000" stroke-width="1.70" fill="none" stroke-dasharray="6 2.6 1.5 2.9 1.5 3.1"/>
<text transform="translate(313.4,164.38) scale(0.940,1)">50</text>
<path d="M279.90,178.30 H310.20" stroke="#008000" stroke-width="1.70" fill="none" stroke-dasharray="4.9 2 1.4 1.7"/>
<text transform="translate(313.4,183.00) scale(0.940,1)">100</text>
<path d="M279.90,196.92 H310.20" stroke="#000" stroke-width="1.70" fill="none"/>
<text transform="translate(313.4,201.62) scale(0.940,1)">LS-exact</text>
<circle cx="294.8" cy="196.92" r="3.1"/>
</g>
</svg>
</body></html>
